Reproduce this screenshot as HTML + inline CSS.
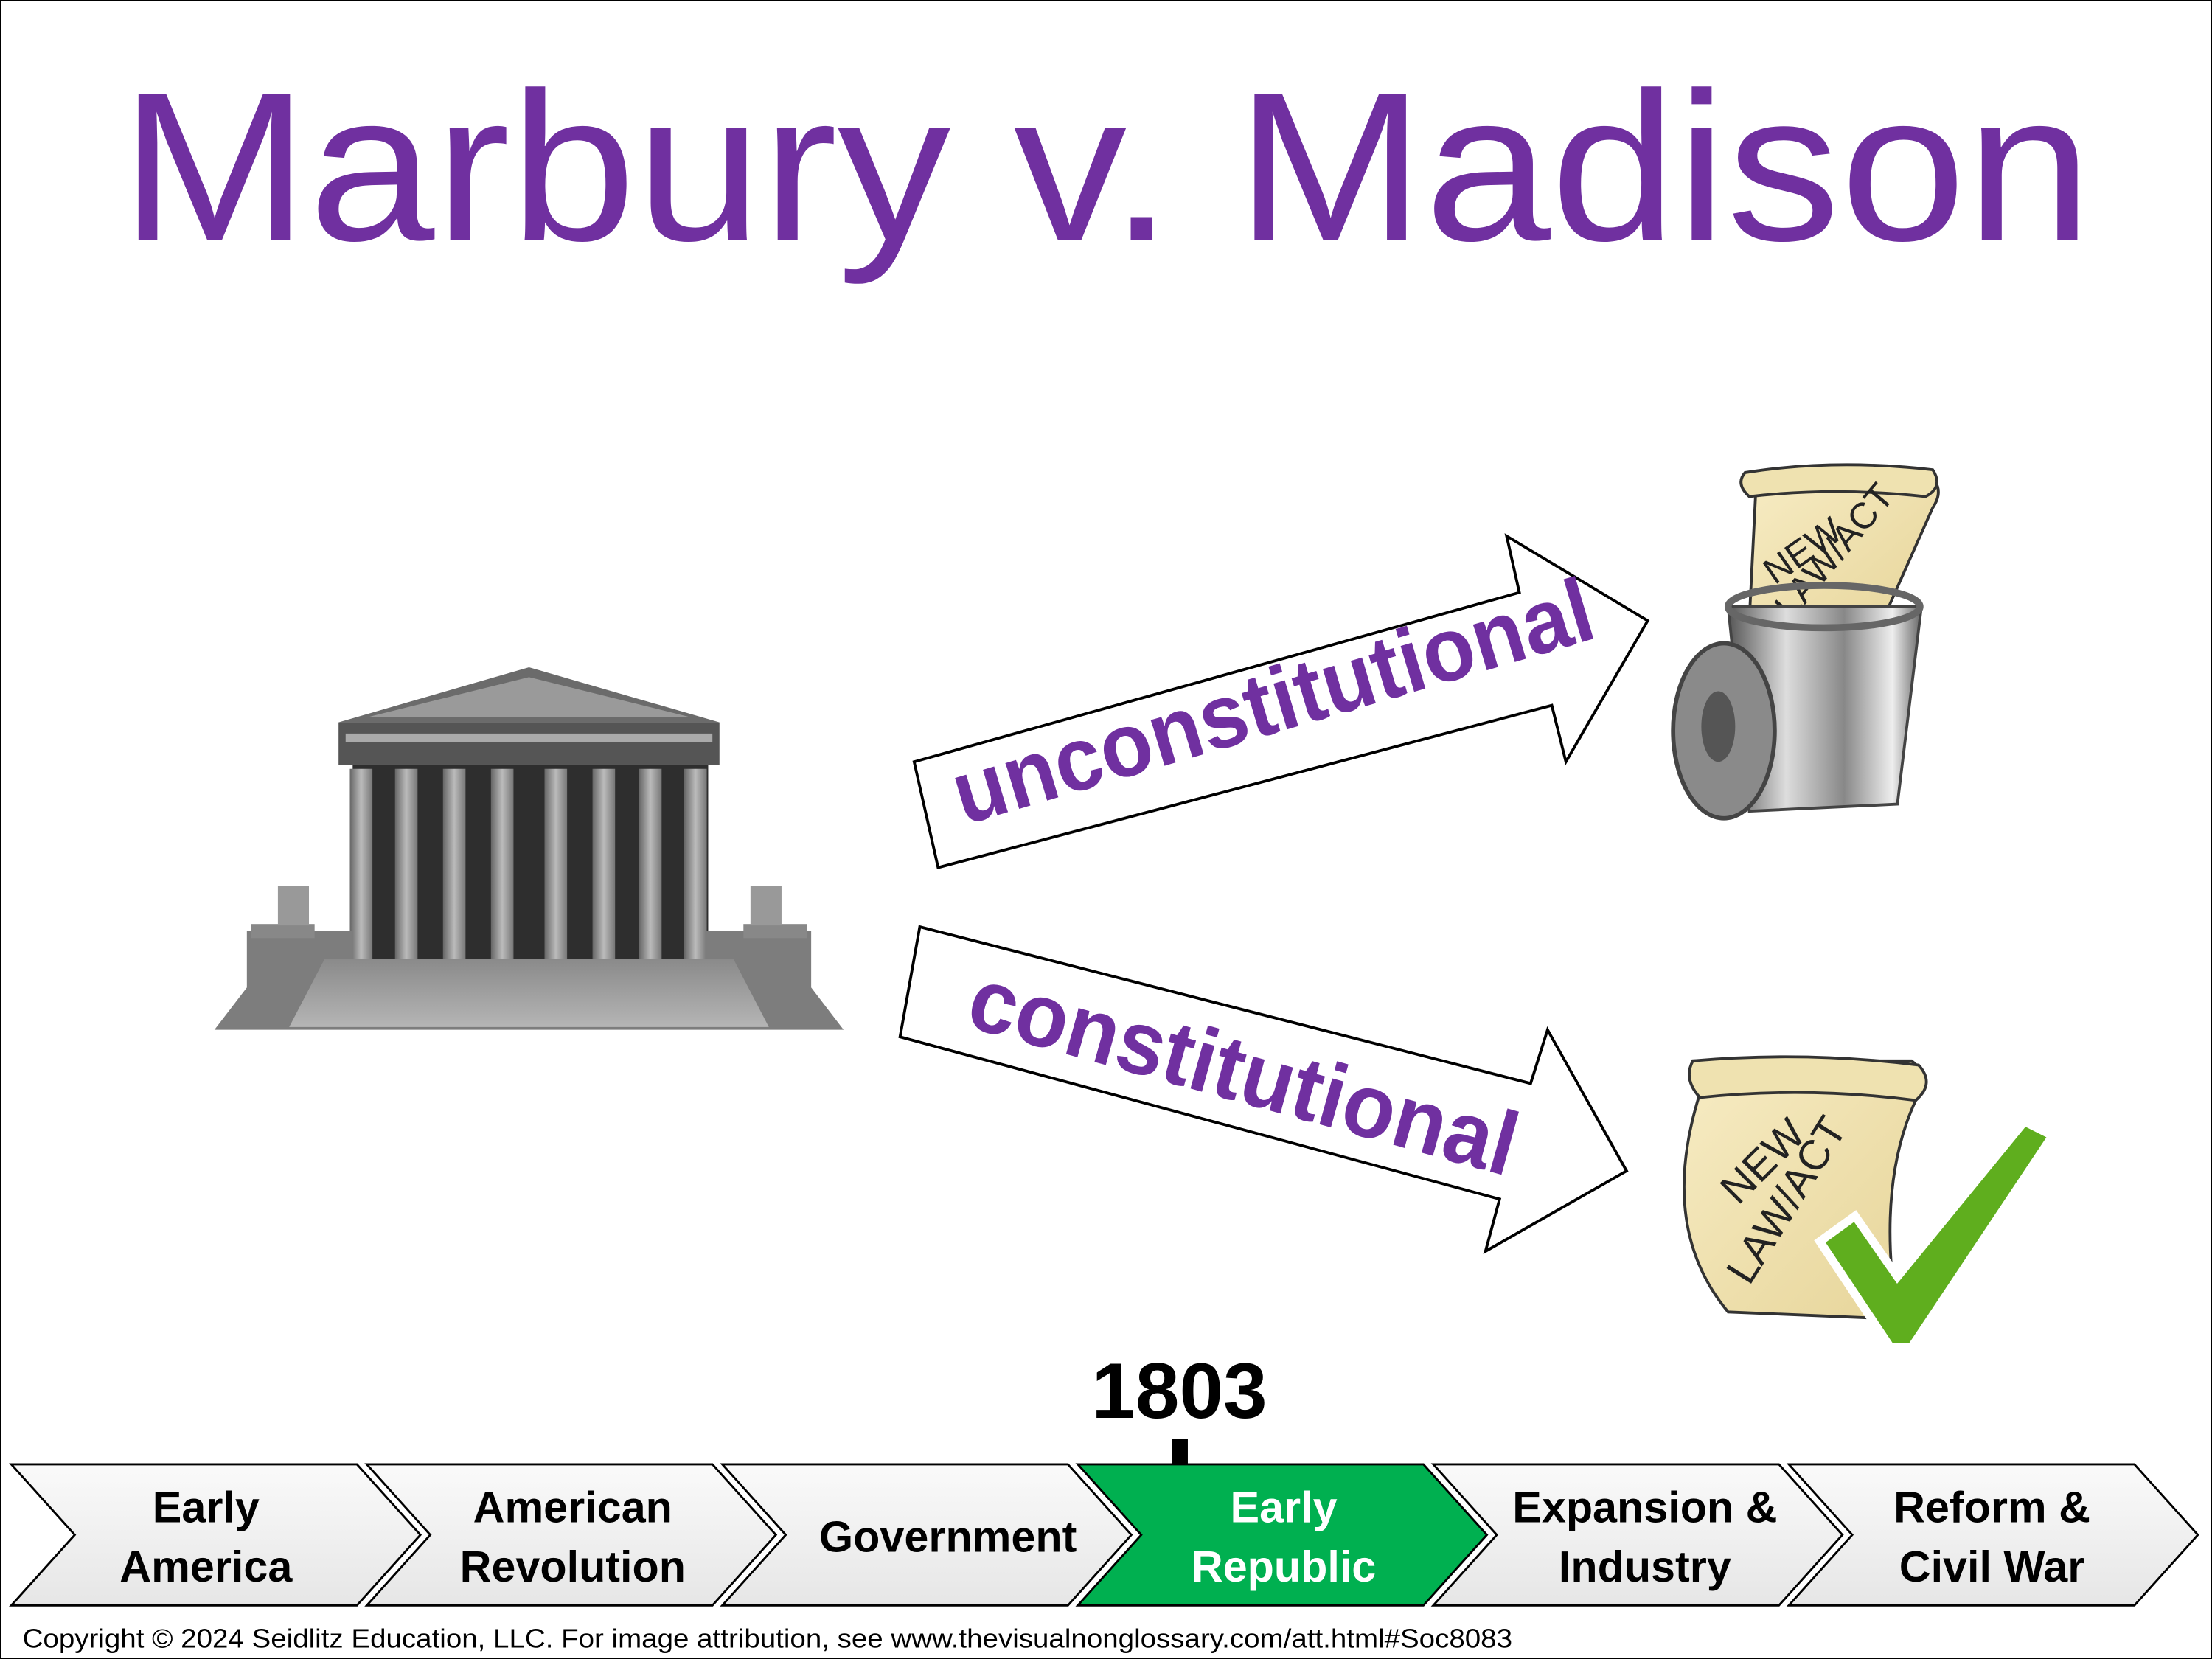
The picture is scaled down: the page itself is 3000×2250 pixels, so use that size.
<!DOCTYPE html>
<html><head><meta charset="utf-8"><style>
html,body{margin:0;padding:0;background:#fff;}
svg{display:block;}
text{font-family:"Liberation Sans",sans-serif;}
</style></head><body>
<svg width="3000" height="2250" viewBox="0 0 1568 1176" xmlns="http://www.w3.org/2000/svg">
<defs>
<linearGradient id="chev" x1="0" y1="0" x2="0" y2="1"><stop offset="0" stop-color="#fafafa"/><stop offset="1" stop-color="#e6e6e6"/></linearGradient>
<linearGradient id="can" x1="0" y1="0" x2="1" y2="0"><stop offset="0" stop-color="#555"/><stop offset="0.3" stop-color="#ddd"/><stop offset="0.6" stop-color="#888"/><stop offset="0.85" stop-color="#eee"/><stop offset="1" stop-color="#666"/></linearGradient>
<linearGradient id="paper" x1="0" y1="0" x2="1" y2="1"><stop offset="0" stop-color="#f7ecc4"/><stop offset="1" stop-color="#e6d498"/></linearGradient>
<linearGradient id="bld" x1="0" y1="0" x2="1" y2="0"><stop offset="0" stop-color="#666"/><stop offset="0.5" stop-color="#bbb"/><stop offset="1" stop-color="#777"/></linearGradient>
<linearGradient id="steps" x1="0" y1="0" x2="0" y2="1"><stop offset="0" stop-color="#8a8a8a"/><stop offset="1" stop-color="#b5b5b5"/></linearGradient>
</defs>
<rect x="0.5" y="0.5" width="1567" height="1175" fill="#fff" stroke="#000" stroke-width="1"/>
<text x="784" y="170" font-size="150" fill="#7030A0" text-anchor="middle" textLength="1398" lengthAdjust="spacingAndGlyphs">Marbury v. Madison</text>

<!-- courthouse -->
<g>
<polygon points="240,512 375,473 510,512" fill="#6b6b6b"/>
<polygon points="262,508 375,480 488,508" fill="#9a9a9a"/>
<rect x="240" y="512" width="270" height="30" fill="#555"/>
<rect x="245" y="520" width="260" height="6" fill="#aaa"/>
<rect x="250" y="542" width="252" height="138" fill="#2e2e2e"/>
<g fill="url(#bld)">
<rect x="248" y="545" width="16" height="135"/><rect x="280" y="545" width="16" height="135"/><rect x="314" y="545" width="16" height="135"/><rect x="348" y="545" width="16" height="135"/><rect x="386" y="545" width="16" height="135"/><rect x="420" y="545" width="16" height="135"/><rect x="453" y="545" width="16" height="135"/><rect x="485" y="545" width="16" height="135"/>
</g>
<polygon points="175,660 250,660 250,680 500,680 500,660 575,660 575,700 598,730 152,730 175,700" fill="#7d7d7d"/>
<polygon points="230,680 520,680 545,728 205,728" fill="url(#steps)"/>
<rect x="178" y="655" width="45" height="10" fill="#888"/><rect x="527" y="655" width="45" height="10" fill="#888"/>
<rect x="197" y="628" width="22" height="28" fill="#999"/><rect x="532" y="628" width="22" height="28" fill="#999"/>
</g>

<!-- arrows -->
<polygon points="648,540 1077,420 1068,380 1168,440 1110,540 1100,500 665,615" fill="#fff" stroke="#000" stroke-width="2"/>
<text transform="translate(683,585) rotate(-16.5)" font-size="64" font-weight="bold" fill="#7030A0" textLength="470" lengthAdjust="spacingAndGlyphs">unconstitutional</text>
<polygon points="652,657 1085,768 1097,730 1153,830 1053,887 1063,850 638,735" fill="#fff" stroke="#000" stroke-width="2"/>
<text transform="translate(683,727) rotate(15.5)" font-size="64" font-weight="bold" fill="#7030A0" textLength="400" lengthAdjust="spacingAndGlyphs">constitutional</text>

<!-- trash can -->
<g>
<path d="M1245,340 L1365,335 Q1380,345 1370,360 L1330,450 L1240,440 Z" fill="url(#paper)" stroke="#333" stroke-width="2"/>
<path d="M1237,335 Q1300,325 1370,333 Q1378,345 1365,352 Q1300,345 1240,352 Q1230,343 1237,335 Z" fill="#efe2b0" stroke="#333" stroke-width="2"/>
<text transform="translate(1258,415) rotate(-35)" font-size="26" fill="#222">NEW</text>
<text transform="translate(1270,440) rotate(-50)" font-size="26" fill="#222">LAW/ACT</text>
<path d="M1225,430 L1362,430 L1345,570 L1240,575 Z" fill="url(#can)" stroke="#444" stroke-width="2"/>
<ellipse cx="1293" cy="430" rx="68" ry="15" fill="none" stroke="#666" stroke-width="5"/>
<ellipse cx="1222" cy="518" rx="36" ry="62" fill="#8a8a8a" stroke="#444" stroke-width="3"/>
<ellipse cx="1218" cy="515" rx="12" ry="25" fill="#555"/>
</g>

<!-- scroll + check -->
<g>
<path d="M1200,752 L1355,752 Q1372,765 1358,780 Q1330,840 1345,935 L1225,930 Q1175,870 1205,775 Q1195,765 1200,752 Z" fill="url(#paper)" stroke="#333" stroke-width="2"/>
<path d="M1200,752 Q1280,745 1360,755 Q1372,768 1358,780 Q1280,770 1205,778 Q1193,765 1200,752 Z" fill="#efe2b0" stroke="#333" stroke-width="2"/>
<text transform="translate(1232,855) rotate(-45)" font-size="30" fill="#222">NEW</text>
<text transform="translate(1240,912) rotate(-58)" font-size="30" fill="#222">LAW/ACT</text>
<polygon points="1290,880 1315,862 1345,905 1435,795 1455,805 1355,955 1340,955" fill="#5fae1e" stroke="#fff" stroke-width="6"/>
</g>

<!-- 1803 -->
<text x="836" y="1005" font-size="56" font-weight="bold" fill="#000" text-anchor="middle">1803</text>
<rect x="831" y="1020" width="11" height="20" fill="#000"/>

<!-- chevrons -->
<g stroke="#000" stroke-width="1.5">
<polygon points="8,1038 253,1038 298,1088 253,1138 8,1138 53,1088" fill="url(#chev)"/>
<polygon points="260,1038 505,1038 550,1088 505,1138 260,1138 305,1088" fill="url(#chev)"/>
<polygon points="512,1038 757,1038 802,1088 757,1138 512,1138 557,1088" fill="url(#chev)"/>
<polygon points="764,1038 1009,1038 1054,1088 1009,1138 764,1138 809,1088" fill="#00B050"/>
<polygon points="1016,1038 1261,1038 1306,1088 1261,1138 1016,1138 1061,1088" fill="url(#chev)"/>
<polygon points="1268,1038 1513,1038 1558,1088 1513,1138 1268,1138 1313,1088" fill="url(#chev)"/>
</g>
<g font-size="31" font-weight="bold" text-anchor="middle" fill="#000">
<text x="146" y="1079">Early</text><text x="146" y="1121">America</text>
<text x="406" y="1079">American</text><text x="406" y="1121">Revolution</text>
<text x="672" y="1100">Government</text>
<text x="910" y="1079" fill="#fff">Early</text><text x="910" y="1121" fill="#fff">Republic</text>
<text x="1166" y="1079">Expansion &amp;</text><text x="1166" y="1121">Industry</text>
<text x="1412" y="1079">Reform &amp;</text><text x="1412" y="1121">Civil War</text>
</g>
<text x="16" y="1168" font-size="19" fill="#000" textLength="1056" lengthAdjust="spacingAndGlyphs">Copyright © 2024 Seidlitz Education, LLC.  For image attribution, see www.thevisualnonglossary.com/att.html#Soc8083</text>
</svg>
</body></html>
